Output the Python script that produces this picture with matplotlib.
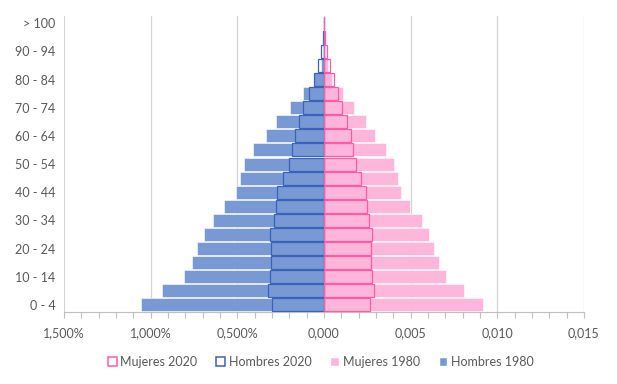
import numpy as np
import matplotlib
matplotlib.use("Agg")
import matplotlib.pyplot as plt
from matplotlib.patches import Patch

# age groups, bottom to top
grupos = ["0 - 4", "5 - 9", "10 - 14", "15 - 19", "20 - 24", "25 - 29", "30 - 34",
          "35 - 39", "40 - 44", "45 - 49", "50 - 54", "55 - 59", "60 - 64", "65 - 69",
          "70 - 74", "75 - 79", "80 - 84", "85 - 89", "90 - 94", "95 - 99", "> 100"]

# share of population
hombres_1980 = [0.01057, 0.00933, 0.00807, 0.00761, 0.00732, 0.00692, 0.00640,
                0.00575, 0.00509, 0.00484, 0.00461, 0.00409, 0.00334, 0.00277,
                0.00196, 0.00119, 0.00056, 0.00019, 0.00005, 0.00001, 0.00001]
mujeres_1980 = [0.00919, 0.00807, 0.00702, 0.00663, 0.00633, 0.00606, 0.00563,
                0.00498, 0.00446, 0.00427, 0.00404, 0.00358, 0.00294, 0.00242,
                0.00173, 0.00108, 0.00048, 0.00023, 0.00006, 0.00002, 0.00001]
hombres_2020 = [0.00302, 0.00325, 0.00311, 0.00306, 0.00306, 0.00311, 0.00288,
                0.00279, 0.00271, 0.00235, 0.00200, 0.00183, 0.00166, 0.00144,
                0.00119, 0.00085, 0.00056, 0.00033, 0.00016, 0.00004, 0.00002]
mujeres_2020 = [0.00267, 0.00288, 0.00277, 0.00271, 0.00271, 0.00277, 0.00260,
                0.00250, 0.00242, 0.00213, 0.00183, 0.00166, 0.00154, 0.00134,
                0.00106, 0.00079, 0.00056, 0.00036, 0.00017, 0.00003, 0.00002]

x_ticks = [-0.015, -0.010, -0.005, 0.0, 0.005, 0.010, 0.015]
x_labels = ["1,500%", "1,000%", "0,500%", "0,000", "0,005", "0,010", "0,015"]

azul, azul_borde = "#7899d4", "#3a62b8"
rosa, rosa_borde = "#ffb6da", "#ff5ca8"
gris = "#595959"

plt.rcParams["font.family"] = ["Lato", "DejaVu Sans"]

fig = plt.figure(figsize=(6.17, 3.84), dpi=100)
ax = fig.add_axes([0.1037, 0.1875, 0.8428, 0.7705])

y = np.arange(len(grupos))
h = 0.92

# 1980 filled bars
ax.barh(y, -np.array(hombres_1980), height=h, color=azul, edgecolor="white", linewidth=0.4, zorder=2)
ax.barh(y, mujeres_1980, height=h, color=rosa, edgecolor="white", linewidth=0.4, zorder=2)
# 2020 outlined bars
ax.barh(y, -np.array(hombres_2020), height=h, fill=False, edgecolor=azul_borde, linewidth=0.9, zorder=3)
ax.barh(y, mujeres_2020, height=h, fill=False, edgecolor=rosa_borde, linewidth=0.9, zorder=3)

ax.set_xlim(-0.015, 0.015)
ax.set_ylim(-0.5, len(grupos) - 0.5)

ax.set_xticks(x_ticks)
ax.set_xticklabels(x_labels, fontsize=9, color=gris)
ax.set_xticks(np.arange(-0.015, 0.0151, 0.001), minor=True)
ax.tick_params(axis="x", which="both", color="#bfbfbf", length=4, width=0.8, pad=7)

ax.set_yticks(y[::2])
ax.set_yticklabels(grupos[::2], fontsize=9, color=gris)
ax.tick_params(axis="y", length=0, pad=6)

ax.grid(axis="x", color="#d4d4d4", linewidth=0.9, zorder=0)
ax.set_axisbelow(True)

for s in ["top", "right", "left"]:
    ax.spines[s].set_visible(False)
ax.spines["bottom"].set_color("#bfbfbf")

handles = [Patch(facecolor="white", edgecolor=rosa_borde, linewidth=1.1, label="Mujeres 2020"),
           Patch(facecolor="white", edgecolor=azul_borde, linewidth=1.1, label="Hombres 2020"),
           Patch(facecolor=rosa, edgecolor="white", label="Mujeres 1980"),
           Patch(facecolor=azul, edgecolor="white", label="Hombres 1980")]
leg = fig.legend(handles=handles, loc="center", bbox_to_anchor=(0.52, 0.058), ncol=4,
                 frameon=False, fontsize=9, handlelength=0.7, handleheight=0.7,
                 handletextpad=0.3, columnspacing=1.5)
for t in leg.get_texts():
    t.set_color(gris)

fig.savefig("out.png", dpi=100)
